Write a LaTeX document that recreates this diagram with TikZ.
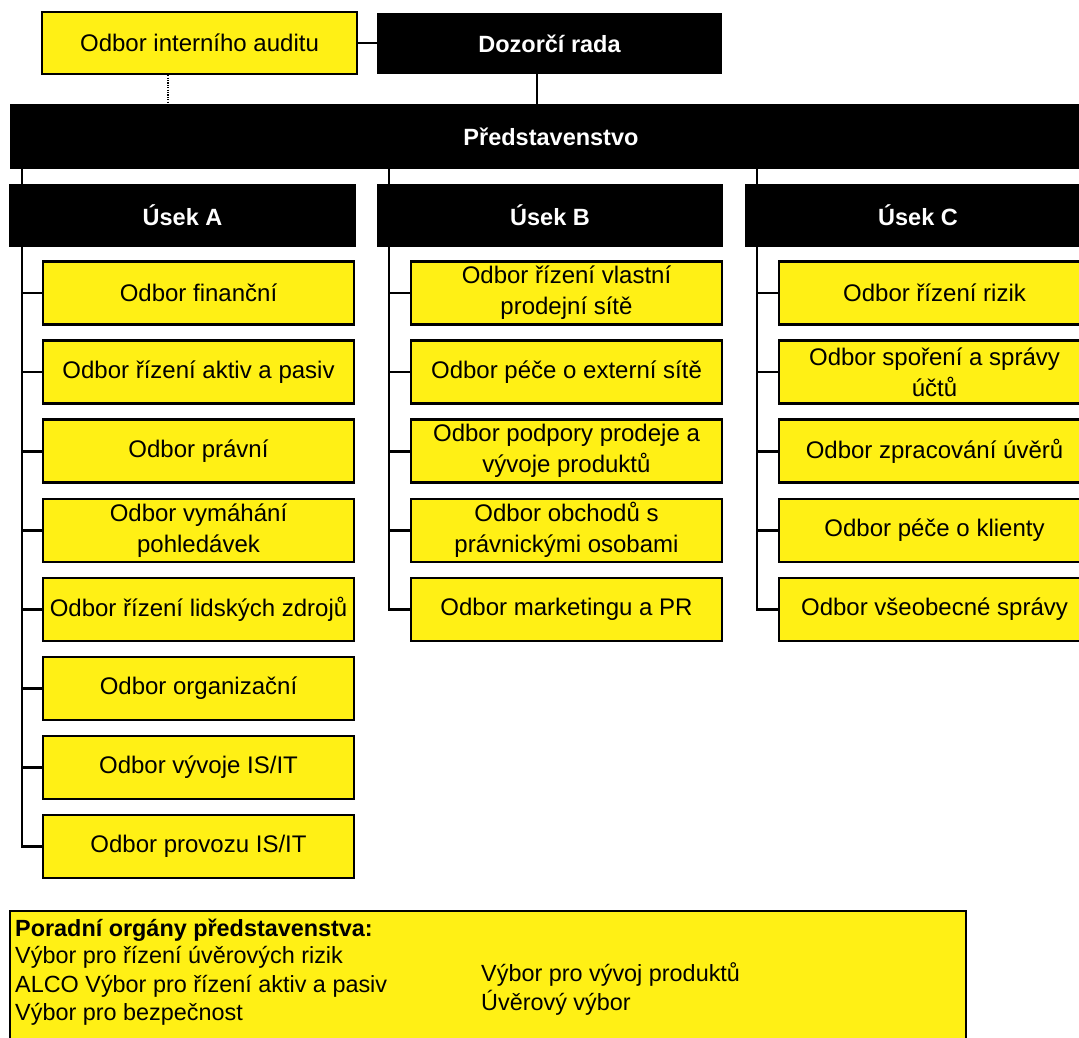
\documentclass[tikz,border=0pt]{standalone}
\usepackage{fontspec}
\setmainfont{Liberation Sans}
\definecolor{yel}{RGB}{255,240,21}
\begin{document}
\begin{tikzpicture}[x=1pt,y=-1pt,
  ybox/.style={draw=black, fill=yel, line width=2.5pt, minimum width=311pt, minimum height=63pt, inner sep=0pt, align=center, font=\fontsize{24}{31}\selectfont},
  bbox/.style={fill=black, text=white, minimum height=63pt, inner sep=0pt, font=\fontsize{23.5}{28}\selectfont\bfseries},
  link/.style={line width=2.7pt},
  tlink/.style={line width=1.5pt},
  dotlink/.style={line width=1.5pt, dash pattern=on 1.2pt off 1.2pt},
  txt/.style={anchor=base west, inner sep=0pt, font=\fontsize{23.4}{28}\selectfont}]
\useasboundingbox (0,0) rectangle (1079,1037);

% top
\node[ybox, minimum width=315pt, minimum height=62pt] (audit) at (199.5,43) {Odbor interního auditu};
\node[bbox, minimum width=345pt, minimum height=61pt] (dozor) at (549.5,43.5) {Dozorčí rada};
\node[bbox, minimum width=1082pt, minimum height=65pt] (pred) at (551,136.5) {Představenstvo};

% sections
\node[bbox, minimum width=347pt] (usekA) at (182.5,215.5) {Úsek A};
\node[bbox, minimum width=346pt] (usekB) at (550,215.5) {Úsek B};
\node[bbox, minimum width=346pt] (usekC) at (918,215.5) {Úsek C};

% column A
\node[ybox] (a1) at (198.5,293) {Odbor finanční};
\node[ybox] (a2) at (198.5,372.1) {Odbor řízení aktiv a pasiv};
\node[ybox] (a3) at (198.5,451.2) {Odbor právní};
\node[ybox] (a4) at (198.5,530.3) {Odbor vymáhání\\pohledávek};
\node[ybox] (a5) at (198.5,609.4) {Odbor řízení lidských zdrojů};
\node[ybox] (a6) at (198.5,688.5) {Odbor organizační};
\node[ybox] (a7) at (198.5,767.6) {Odbor vývoje IS/IT};
\node[ybox] (a8) at (198.5,846.7) {Odbor provozu IS/IT};

% column B
\node[ybox] (b1) at (566.5,293) {Odbor řízení vlastní\\prodejní sítě};
\node[ybox] (b2) at (566.5,372.1) {Odbor péče o externí sítě};
\node[ybox] (b3) at (566.5,451.2) {Odbor podpory prodeje a\\vývoje produktů};
\node[ybox] (b4) at (566.5,530.3) {Odbor obchodů s\\právnickými osobami};
\node[ybox] (b5) at (566.5,609.4) {Odbor marketingu a PR};

% column C
\node[ybox] (c1) at (934.5,293) {Odbor řízení rizik};
\node[ybox] (c2) at (934.5,372.1) {Odbor spoření a správy\\účtů};
\node[ybox] (c3) at (934.5,451.2) {Odbor zpracování úvěrů};
\node[ybox] (c4) at (934.5,530.3) {Odbor péče o klienty};
\node[ybox] (c5) at (934.5,609.4) {Odbor všeobecné správy};

% connector x positions
\coordinate (ax) at (22,0);
\coordinate (bx) at (389,0);
\coordinate (cx) at (757,0);
\coordinate (dz) at (537,0);
\coordinate (au) at (168,0);

% top connectors
\draw[link] (audit.east) -- (audit.east -| dozor.west);
\draw[dotlink] (audit.south -| au) -- (pred.north -| au);
\draw[tlink] (dozor.south -| dz) -- (pred.north -| dz);

% board to sections
\draw[tlink] (pred.south -| ax) -- (usekA.north -| ax);
\draw[tlink] (pred.south -| bx) -- (usekB.north -| bx);
\draw[tlink] (pred.south -| cx) -- (usekC.north -| cx);

% spines
\draw[link] (usekA.south -| ax) |- (a8.west);
\draw[link] (usekB.south -| bx) |- (b5.west);
\draw[link] (usekC.south -| cx) |- (c5.west);
\foreach \n in {a1,a2,a3,a4,a5,a6,a7} \draw[link] (\n.west -| ax) -- (\n.west);
\foreach \n in {b1,b2,b3,b4} \draw[link] (\n.west -| bx) -- (\n.west);
\foreach \n in {c1,c2,c3,c4} \draw[link] (\n.west -| cx) -- (\n.west);

% advisory bodies
\node[draw=black, fill=yel, line width=2.5pt, minimum width=956pt, minimum height=140pt, inner sep=0pt] (porad) at (488,981) {};
\node[txt, font=\fontsize{23.4}{28}\selectfont\bfseries] (p0) at (15,936) {Poradní orgány představenstva:};
\node[txt] (p1) at (15,963) {Výbor pro řízení úvěrových rizik};
\node[txt] (p2) at (15,992) {ALCO Výbor pro řízení aktiv a pasiv};
\node[txt] (p3) at (15,1020) {Výbor pro bezpečnost};
\node[txt] (p4) at (481,981) {Výbor pro vývoj produktů};
\node[txt] (p5) at (481,1010) {Úvěrový výbor};
\end{tikzpicture}
\end{document}
